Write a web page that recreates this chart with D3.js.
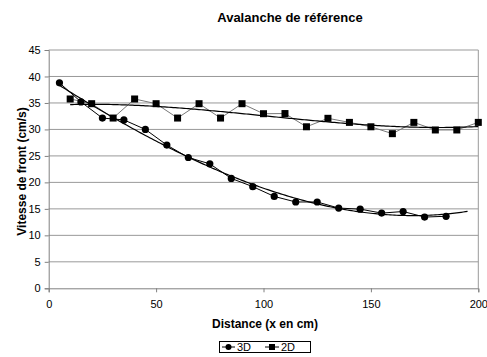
<!DOCTYPE html>
<html><head><meta charset="utf-8">
<script src="https://cdn.jsdelivr.net/npm/d3@7"></script>
<style>body{margin:0;background:#fff}svg{display:block;font-family:"Liberation Sans",Arial,sans-serif}</style>
</head><body><svg id="c" width="487" height="357"></svg>
<script>
const title = "Avalanche de référence";
const xLabel = "Distance (x en cm)";
const yLabel = "Vitesse de front (cm/s)";
const xTicks = [0, 50, 100, 150, 200];
const yTicks = [0, 5, 10, 15, 20, 25, 30, 35, 40, 45];
const x3D = [5, 15, 25, 35, 45, 55, 65, 75, 85, 95, 105, 115, 125, 135, 145, 155, 165, 175, 185];
const v3D = [38.8, 35.2, 32.15, 31.8, 30.0, 27.05, 24.7, 23.5, 20.75, 19.2, 17.35, 16.3, 16.3, 15.15, 14.95, 14.2, 14.5, 13.45, 13.6];
const x2D = [10, 20, 30, 40, 50, 60, 70, 80, 90, 100, 110, 120, 130, 140, 150, 160, 170, 180, 190, 200];
const v2D = [35.75, 34.86, 32.15, 35.75, 34.86, 32.15, 34.86, 32.15, 34.86, 32.97, 33.0, 30.5, 32.1, 31.33, 30.5, 29.2, 31.33, 29.9, 29.9, 31.33];
const seriesNames = ["3D", "2D"];

const svg = d3.select("#c");
const x = d3.scaleLinear().domain([0, 200]).range([48.7, 478.3]);
const y = d3.scaleLinear().domain([0, 45]).range([288.3, 50]);

// plot border & gridlines
svg.append("g").selectAll("line").data(yTicks.filter(d => d > 0)).join("line")
  .attr("x1", x(0)).attr("x2", x(200)).attr("y1", d => y(d)).attr("y2", d => y(d))
  .attr("stroke", "#999").attr("stroke-width", 1);
svg.append("line").attr("x1", x(200)).attr("x2", x(200)).attr("y1", y(45)).attr("y2", y(0))
  .attr("stroke", "#999");

// axes
const xa = svg.append("g").attr("transform", `translate(0,${y(0)})`)
  .call(d3.axisBottom(x).tickValues(xTicks).tickSize(4).tickPadding(8));
const ya = svg.append("g").attr("transform", `translate(${x(0)},0)`)
  .call(d3.axisLeft(y).tickValues(yTicks).tickSize(4).tickPadding(4));
[xa, ya].forEach(a => {
  a.select(".domain").attr("stroke", "#808080");
  a.selectAll(".tick line").attr("stroke", "#808080");
  a.selectAll("text").attr("font-size", 11).attr("fill", "#000")
    .attr("font-family", '"Liberation Sans",Arial,sans-serif');
});

// polynomial least-squares fit (Excel polynomial trendline)
function polyfit(xs, ys, n) {
  const m = n + 1;
  const A = [], b = [];
  for (let i = 0; i < m; i++) {
    A.push([]);
    for (let j = 0; j < m; j++) A[i].push(d3.sum(xs, v => Math.pow(v, i + j)));
    b.push(d3.sum(xs, (v, k) => Math.pow(v, i) * ys[k]));
  }
  for (let i = 0; i < m; i++) {
    for (let j = i + 1; j < m; j++) {
      const f = A[j][i] / A[i][i];
      for (let k = i; k < m; k++) A[j][k] -= f * A[i][k];
      b[j] -= f * b[i];
    }
  }
  const c = new Array(m).fill(0);
  for (let i = m - 1; i >= 0; i--) {
    let s = b[i];
    for (let k = i + 1; k < m; k++) s -= A[i][k] * c[k];
    c[i] = s / A[i][i];
  }
  return t => c.reduce((acc, ci, i) => acc + ci * Math.pow(t, i), 0);
}
const f3 = polyfit(x3D, v3D, 3), f2 = polyfit(x2D, v2D, 3);
const line = d3.line().x(d => x(d[0])).y(d => y(d[1]));

// series lines
svg.append("path").attr("d", line(x2D.map((d, i) => [d, v2D[i]])))
  .attr("fill", "none").attr("stroke", "#777").attr("stroke-width", 1);
svg.append("path").attr("d", line(x3D.map((d, i) => [d, v3D[i]])))
  .attr("fill", "none").attr("stroke", "#000").attr("stroke-width", 1);

// trend lines
const tr3 = d3.range(x3D[0], x3D[x3D.length - 1] + 10.01, 1).map(t => [t, f3(t)]);
const tr2 = d3.range(x2D[0], x2D[x2D.length - 1] + 0.01, 1).map(t => [t, f2(t)]);
[tr3, tr2].forEach(p => svg.append("path").attr("d", line(p))
  .attr("fill", "none").attr("stroke", "#000").attr("stroke-width", 1.2));

// markers
svg.append("g").selectAll("circle").data(x3D).join("circle")
  .attr("cx", d => x(d)).attr("cy", (d, i) => y(v3D[i])).attr("r", 3.6).attr("fill", "#000");
svg.append("g").selectAll("rect").data(x2D).join("rect")
  .attr("x", d => x(d) - 3.5).attr("y", (d, i) => y(v2D[i]) - 3.5)
  .attr("width", 7).attr("height", 7).attr("fill", "#000");

// titles
svg.append("text").attr("x", 290).attr("y", 21.5).attr("text-anchor", "middle")
  .attr("font-size", 13).attr("font-weight", "bold").text(title);
svg.append("text").attr("x", 265).attr("y", 327.5).attr("text-anchor", "middle")
  .attr("font-size", 12).attr("font-weight", "bold").text(xLabel);
svg.append("text").attr("transform", "translate(25.5,171.5) rotate(-90)").attr("text-anchor", "middle")
  .attr("font-size", 12).attr("font-weight", "bold").text(yLabel);

// legend
const lg = svg.append("g");
lg.append("rect").attr("x", 219.5).attr("y", 341.5).attr("width", 91).attr("height", 11)
  .attr("fill", "#fff").attr("stroke", "#000");
lg.append("line").attr("x1", 222).attr("x2", 235).attr("y1", 347).attr("y2", 347).attr("stroke", "#000");
lg.append("circle").attr("cx", 228.5).attr("cy", 347).attr("r", 3).attr("fill", "#000");
lg.append("text").attr("x", 237).attr("y", 351).attr("font-size", 11).text(seriesNames[0]);
lg.append("line").attr("x1", 265).attr("x2", 279).attr("y1", 347).attr("y2", 347).attr("stroke", "#000");
lg.append("rect").attr("x", 269).attr("y", 344).attr("width", 6).attr("height", 6).attr("fill", "#000");
lg.append("text").attr("x", 281).attr("y", 351).attr("font-size", 11).text(seriesNames[1]);
</script></body></html>
